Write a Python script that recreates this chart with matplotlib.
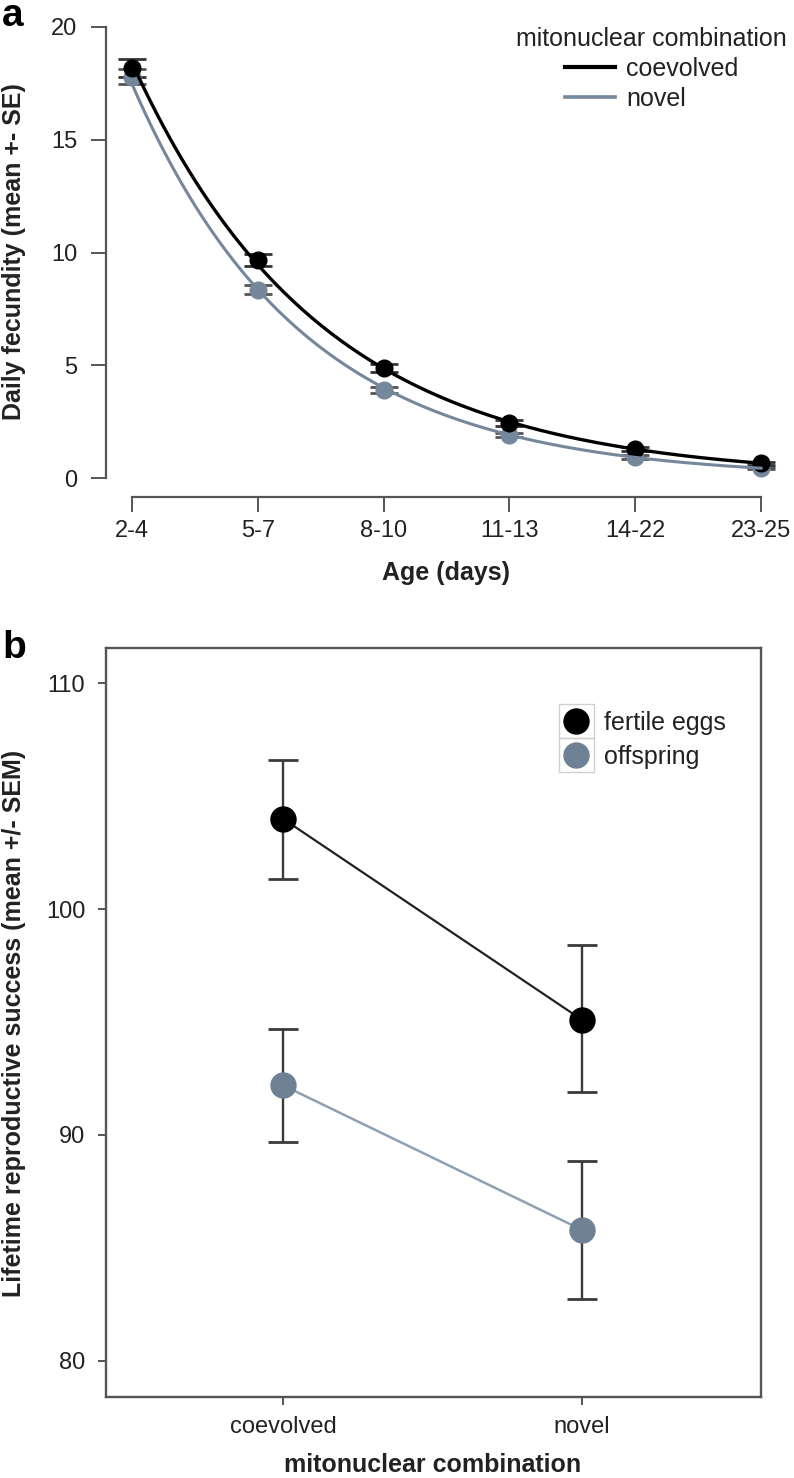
import numpy as np
import matplotlib
matplotlib.use('Agg')
import matplotlib.pyplot as plt
from matplotlib.lines import Line2D
from matplotlib.patches import Rectangle

plt.rcParams['font.family'] = ['Liberation Sans', 'DejaVu Sans']

# panel a: daily fecundity by age class
age_labels = ['2-4', '5-7', '8-10', '11-13', '14-22', '23-25']
coev_mean = [18.2, 9.67, 4.88, 2.44, 1.29, 0.66]
coev_se = [0.40, 0.25, 0.18, 0.12, 0.08, 0.06]
novel_mean = [17.8, 8.34, 3.90, 1.90, 0.93, 0.44]
novel_se = [0.33, 0.20, 0.15, 0.10, 0.07, 0.05]

# panel b: lifetime reproductive success
combos = ['coevolved', 'novel']
eggs_mean = [104.0, 95.1]
eggs_lo = [101.35, 91.9]
eggs_hi = [106.6, 98.4]
offs_mean = [92.2, 85.8]
offs_lo = [89.7, 82.75]
offs_hi = [94.7, 88.85]

W, H = 794, 1478
fig = plt.figure(figsize=(W / 100, H / 100), dpi=100)

def fx(px):
    return px / W

def fy(py):
    return 1 - py / H

axis_col = '#555555'
text_col = '#222222'
novel_col = '#75879b'

# ---------------- panel a ----------------
ax1 = fig.add_axes([fx(106), fy(497), fx(787 - 106), (497 - 22) / H])
x = np.arange(len(age_labels))

# exponential fit through the means (the smooth curves)
xs = np.linspace(0, len(age_labels) - 1, 200)
for means, col, lw in [(coev_mean, 'black', 2.4), (novel_mean, novel_col, 2.2)]:
    b, a = np.polyfit(x, np.log(means), 1)
    ax1.plot(xs, np.exp(a + b * xs), color=col, lw=lw, zorder=4)

ax1.errorbar(x, novel_mean, yerr=novel_se, fmt='o', color=novel_col, ms=12,
             ecolor='#555555', elinewidth=1.6, capsize=10, capthick=2, zorder=3)
ax1.errorbar(x, coev_mean, yerr=coev_se, fmt='o', color='black', ms=12,
             ecolor='#333333', elinewidth=1.6, capsize=10, capthick=2, zorder=3)

ax1.set_xlim(-0.206, 5.206)
ax1.set_ylim(-0.84, 20.22)
ax1.set_xticks(x)
ax1.set_xticklabels(age_labels)
ax1.set_yticks([0, 5, 10, 15, 20])
for s in ['top', 'right']:
    ax1.spines[s].set_visible(False)
ax1.spines['left'].set_bounds(0, 20)
ax1.spines['bottom'].set_bounds(0, 5)
for s in ['left', 'bottom']:
    ax1.spines[s].set_color(axis_col)
    ax1.spines[s].set_linewidth(1.6)
ax1.tick_params(axis='both', length=10.8, width=1.4, color=axis_col,
                labelsize=17, labelcolor=text_col)
ax1.tick_params(axis='y', pad=10)
ax1.tick_params(axis='x', pad=6)

fig.text(fx(446), fy(573), 'Age (days)', ha='center', va='center',
         fontsize=18, fontweight='bold', color=text_col)
fig.text(fx(14), fy(252), 'Daily fecundity (mean +- SE)', ha='center', va='center',
         rotation=90, fontsize=18, fontweight='bold', color=text_col)
fig.text(fx(2), fy(26), 'a', ha='left', va='baseline', fontsize=28,
         fontweight='bold', color='black')

h1 = [Line2D([], [], color='black', lw=3), Line2D([], [], color=novel_col, lw=2.6)]
leg1 = ax1.legend(h1, ['coevolved', 'novel'], title='mitonuclear combination',
                  loc='upper right', bbox_to_anchor=(fx(787), fy(27)),
                  bbox_transform=fig.transFigure, frameon=False, fontsize=18,
                  title_fontsize=18, handlelength=2.0, handletextpad=0.45,
                  labelspacing=0.24, borderpad=0, borderaxespad=0)
for t in leg1.get_texts():
    t.set_color(text_col)
leg1.get_title().set_color(text_col)

# ---------------- panel b ----------------
ax2 = fig.add_axes([fx(106), fy(1397), fx(761 - 106), (1397 - 648) / H])
xb = np.arange(1, len(combos) + 1)

eggs_err = [np.subtract(eggs_mean, eggs_lo), np.subtract(eggs_hi, eggs_mean)]
offs_err = [np.subtract(offs_mean, offs_lo), np.subtract(offs_hi, offs_mean)]

ax2.plot(xb, eggs_mean, color='#222222', lw=1.6, zorder=2)
ax2.plot(xb, offs_mean, color='#8fa0b2', lw=1.8, zorder=2)
ax2.errorbar(xb, eggs_mean, yerr=eggs_err, fmt='none', ecolor='#3a3a3a',
             elinewidth=1.7, capsize=10.5, capthick=2, zorder=3)
ax2.errorbar(xb, offs_mean, yerr=offs_err, fmt='none', ecolor='#3a3a3a',
             elinewidth=1.7, capsize=10.5, capthick=2, zorder=3)
ax2.plot(xb, eggs_mean, 'o', color='black', ms=18, zorder=4)
ax2.plot(xb, offs_mean, 'o', color='#6f8195', ms=18, zorder=4)

ax2.set_xlim(0.408, 2.599)
ax2.set_ylim(78.4, 111.56)
ax2.set_xticks(xb)
ax2.set_xticklabels(combos)
ax2.set_yticks([80, 90, 100, 110])
for s in ax2.spines.values():
    s.set_color(axis_col)
    s.set_linewidth(1.7)
ax2.tick_params(axis='both', length=6, width=1.4, color=axis_col,
                labelsize=17, labelcolor=text_col)
ax2.tick_params(axis='y', pad=9)
ax2.tick_params(axis='x', pad=8)

fig.text(fx(433), fy(1465), 'mitonuclear combination', ha='center', va='center',
         fontsize=18, fontweight='bold', color=text_col)
fig.text(fx(14), fy(1023), 'Lifetime reproductive success (mean +/- SEM)',
         ha='center', va='center', rotation=90, fontsize=18,
         fontweight='bold', color=text_col)
fig.text(fx(2), fy(658), 'b', ha='left', va='baseline', fontsize=28,
         fontweight='bold', color='black')

# legend key boxes
for top in [704, 738]:
    fig.patches.append(Rectangle((fx(559), fy(top + 34)), fx(35), 34 / H,
                                 transform=fig.transFigure, fill=False,
                                 edgecolor='#d0d0d0', lw=1))

h2 = [Line2D([], [], ls='none', marker='o', color='black', ms=18),
      Line2D([], [], ls='none', marker='o', color='#6f8195', ms=18)]
leg2 = ax2.legend(h2, ['fertile eggs', 'offspring'], loc='upper left',
                  bbox_to_anchor=(fx(560), fy(711)), bbox_transform=fig.transFigure,
                  frameon=False, fontsize=18, handlelength=1.3, handletextpad=0.45,
                  labelspacing=0.38, borderpad=0, borderaxespad=0)
for t in leg2.get_texts():
    t.set_color(text_col)

fig.savefig('out.png', dpi=100)
